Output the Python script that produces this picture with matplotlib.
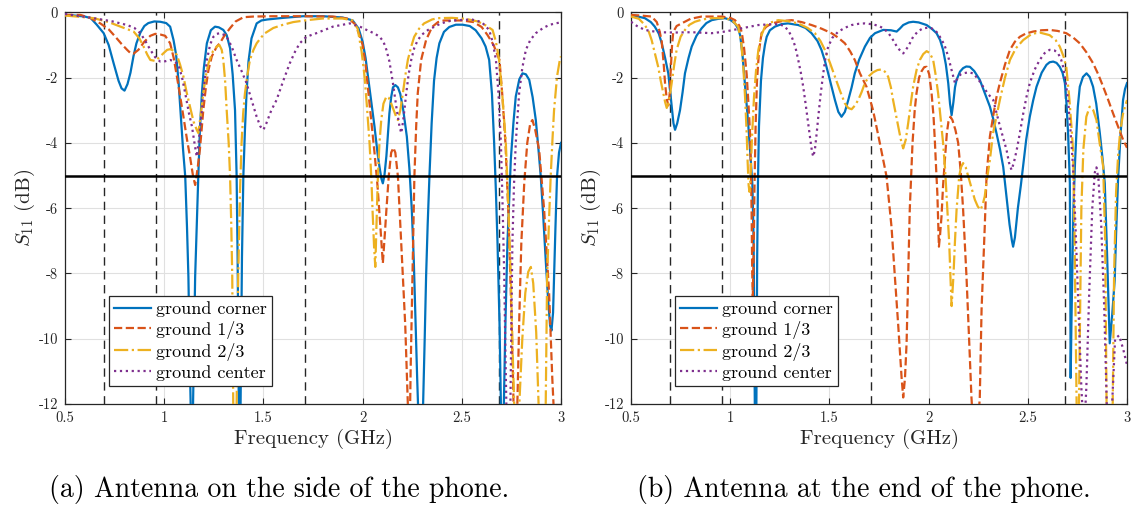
import matplotlib
matplotlib.use("Agg")
import matplotlib.pyplot as plt

plt.rcParams["font.family"] = "serif"
plt.rcParams["font.serif"] = ["cmr10"]
plt.rcParams["mathtext.fontset"] = "cm"
plt.rcParams["axes.unicode_minus"] = False
plt.rcParams["axes.formatter.use_mathtext"] = False

# ---- (a) antenna on the side of the phone ----
a_corner = [(0.50,-0.08),(0.55,-0.10),(0.60,-0.13),(0.63,-0.18),(0.66,-0.38),(0.695,-0.64),(0.72,-1.0),
    (0.745,-1.56),(0.77,-2.1),(0.785,-2.33),(0.80,-2.40),(0.815,-2.2),(0.83,-1.85),(0.845,-1.35),(0.86,-0.95),
    (0.88,-0.62),(0.90,-0.42),(0.92,-0.33),(0.95,-0.28),(0.98,-0.29),(1.01,-0.33),(1.03,-0.44),(1.047,-0.85),
    (1.06,-1.3),(1.072,-2.1),(1.085,-3.3),(1.095,-4.2),(1.106,-5.03),(1.115,-6.6),(1.122,-8.1),(1.13,-11),
    (1.14,-14),(1.148,-11),(1.156,-8.1),(1.164,-6.5),(1.172,-5.0),(1.18,-3.6),(1.19,-2.48),(1.20,-1.7),
    (1.215,-0.95),(1.235,-0.55),(1.256,-0.44),(1.275,-0.46),(1.298,-0.54),(1.315,-0.7),(1.332,-1.1),
    (1.345,-1.9),(1.357,-3.0),(1.365,-5.0),(1.37,-7.5),(1.376,-12),(1.38,-14),(1.385,-12),(1.392,-7.5),
    (1.399,-5.0),(1.407,-3.6),(1.415,-2.48),(1.425,-1.5),(1.44,-0.8),(1.466,-0.34),(1.49,-0.25),(1.52,-0.22),
    (1.6,-0.17),(1.7,-0.12),(1.8,-0.12),(1.9,-0.16),(1.95,-0.25),(1.98,-0.5),(2.0,-0.9),(2.015,-1.4),
    (2.027,-1.97),(2.045,-2.8),(2.06,-3.5),(2.075,-4.3),(2.085,-4.73),(2.095,-5.1),(2.102,-5.24),(2.11,-5.0),
    (2.12,-4.4),(2.127,-3.8),(2.135,-3.1),(2.144,-2.6),(2.153,-2.3),(2.165,-2.23),(2.178,-2.3),(2.19,-2.5),
    (2.205,-3.0),(2.223,-3.81),(2.236,-4.8),(2.248,-6.05),(2.258,-7.6),(2.265,-9.1),(2.275,-11.2),(2.29,-14),
    (2.305,-12),(2.313,-10),(2.32,-8.1),(2.328,-6.5),(2.337,-5.0),(2.348,-3.4),(2.36,-2.1),(2.373,-1.4),
    (2.387,-0.95),(2.41,-0.6),(2.437,-0.45),(2.47,-0.38),(2.504,-0.38),(2.54,-0.42),(2.57,-0.55),(2.60,-0.8),
    (2.62,-1.05),(2.638,-1.46),(2.652,-2.5),(2.663,-4.0),(2.672,-5.5),(2.68,-7.07),(2.69,-9.5),(2.697,-12),
    (2.705,-14),(2.712,-12),(2.72,-9.5),(2.73,-7.07),(2.74,-5.6),(2.747,-4.52),(2.76,-3.4),(2.772,-2.58),
    (2.79,-2.05),(2.806,-1.87),(2.823,-1.9),(2.84,-2.07),(2.857,-2.6),(2.873,-3.3),(2.885,-4.1),(2.898,-5.03),
    (2.91,-6.2),(2.923,-7.59),(2.935,-8.8),(2.945,-9.6),(2.952,-9.75),(2.96,-9.2),(2.965,-8.1),(2.972,-6.6),
    (2.98,-5.03),(2.99,-4.3),(3.0,-4.0)]

a_third = [(0.50,-0.08),(0.578,-0.08),(0.63,-0.18),(0.678,-0.34),(0.72,-0.52),(0.754,-0.75),(0.785,-0.97),
    (0.813,-1.15),(0.83,-1.25),(0.845,-1.27),(0.87,-1.15),(0.90,-0.9),(0.93,-0.72),(0.955,-0.66),(0.98,-0.68),
    (1.005,-0.72),(1.03,-0.95),(1.048,-1.4),(1.064,-1.97),(1.08,-2.55),(1.097,-3.2),(1.115,-3.9),(1.13,-4.42),
    (1.145,-5.0),(1.156,-5.29),(1.168,-4.8),(1.18,-4.2),(1.19,-3.5),(1.197,-3.0),(1.21,-2.3),(1.223,-1.77),
    (1.24,-1.35),(1.265,-1.05),(1.28,-0.95),(1.30,-0.75),(1.33,-0.5),(1.36,-0.28),(1.40,-0.15),(1.45,-0.13),
    (1.55,-0.12),(1.7,-0.12),(1.85,-0.13),(1.93,-0.2),(1.96,-0.35),(1.985,-0.7),(2.0,-1.0),(2.015,-1.6),
    (2.03,-2.5),(2.045,-3.4),(2.06,-4.3),(2.075,-5.3),(2.09,-6.6),(2.102,-7.69),(2.112,-6.8),(2.12,-6.05),
    (2.132,-5.0),(2.144,-4.3),(2.155,-4.15),(2.165,-4.3),(2.178,-5.03),(2.19,-6.5),(2.203,-8.1),(2.215,-9.6),
    (2.228,-12),(2.235,-14),(2.242,-11),(2.25,-8.5),(2.261,-5.03),(2.27,-3.5),(2.278,-2.48),(2.295,-1.46),
    (2.32,-0.85),(2.35,-0.45),(2.38,-0.3),(2.41,-0.25),(2.5,-0.25),(2.56,-0.3),(2.6,-0.45),(2.63,-0.7),
    (2.66,-1.0),(2.69,-1.46),(2.705,-2.6),(2.72,-4.0),(2.735,-6.2),(2.748,-8.8),(2.758,-11.2),(2.768,-14),
    (2.78,-12),(2.79,-9.3),(2.80,-7.07),(2.815,-5.2),(2.83,-4.0),(2.845,-3.4),(2.856,-3.3),(2.87,-3.6),
    (2.89,-4.22),(2.915,-6.05),(2.94,-8.6),(2.956,-11.2),(2.97,-13),(3.0,-14)]

a_two_thirds = [(0.50,-0.1),(0.56,-0.13),(0.645,-0.18),(0.72,-0.3),(0.78,-0.44),(0.846,-0.59),(0.875,-0.8),
    (0.896,-1.05),(0.915,-1.3),(0.93,-1.46),(0.955,-1.49),(0.975,-1.38),(0.997,-1.25),(1.015,-1.15),
    (1.03,-1.13),(1.048,-1.18),(1.064,-1.31),(1.08,-1.6),(1.097,-1.97),(1.113,-2.45),(1.13,-2.89),
    (1.148,-3.35),(1.164,-3.6),(1.172,-3.7),(1.185,-3.1),(1.197,-2.48),(1.21,-1.95),(1.223,-1.56),
    (1.245,-1.2),(1.265,-1.05),(1.278,-1.0),(1.29,-1.15),(1.298,-1.46),(1.307,-2.1),(1.315,-3.0),(1.325,-4.0),
    (1.332,-5.03),(1.338,-6.5),(1.343,-8.1),(1.348,-12),(1.356,-14),(1.365,-12),(1.373,-8.1),(1.382,-5.5),
    (1.39,-4.0),(1.398,-3.1),(1.407,-2.48),(1.42,-1.9),(1.432,-1.46),(1.45,-1.15),(1.466,-0.95),(1.49,-0.76),
    (1.508,-0.64),(1.55,-0.48),(1.6,-0.38),(1.65,-0.3),(1.72,-0.24),(1.8,-0.19),(1.9,-0.19),(1.95,-0.25),
    (1.975,-0.5),(1.995,-1.2),(2.01,-1.97),(2.022,-2.9),(2.035,-4.0),(2.045,-5.2),(2.05,-6.05),(2.058,-7.2),
    (2.064,-7.8),(2.07,-6.5),(2.077,-5.03),(2.085,-4.0),(2.094,-3.3),(2.105,-2.8),(2.12,-2.58),(2.132,-2.62),
    (2.144,-2.79),(2.16,-3.05),(2.172,-3.25),(2.178,-3.3),(2.19,-3.0),(2.203,-2.48),(2.215,-1.95),
    (2.228,-1.46),(2.245,-1.05),(2.26,-0.75),(2.285,-0.5),(2.31,-0.34),(2.35,-0.22),(2.378,-0.18),
    (2.45,-0.17),(2.52,-0.2),(2.58,-0.28),(2.62,-0.4),(2.655,-0.54),(2.672,-0.9),(2.688,-1.46),(2.705,-2.6),
    (2.722,-4.0),(2.735,-6.0),(2.747,-8.1),(2.757,-10.5),(2.764,-12),(2.775,-14),(2.79,-12),(2.805,-10),
    (2.82,-8.6),(2.835,-7.95),(2.848,-7.8),(2.86,-8.3),(2.875,-9.8),(2.887,-12),(2.9,-14),(2.915,-14),
    (2.923,-12),(2.93,-8.1),(2.94,-6.3),(2.948,-5.03),(2.957,-3.9),(2.965,-3.0),(2.98,-1.97),(2.994,-1.46),
    (3.0,-1.35)]

a_center = [(0.50,-0.05),(0.53,-0.08),(0.645,-0.18),(0.74,-0.28),(0.813,-0.39),(0.85,-0.48),(0.88,-0.64),
    (0.905,-0.88),(0.93,-1.15),(0.955,-1.38),(0.98,-1.51),(1.005,-1.5),(1.03,-1.46),(1.05,-1.5),(1.072,-1.61),
    (1.09,-2.0),(1.106,-2.48),(1.125,-3.1),(1.14,-3.5),(1.155,-4.1),(1.164,-4.42),(1.175,-3.9),(1.19,-3.0),
    (1.2,-2.3),(1.215,-1.46),(1.232,-0.98),(1.248,-0.75),(1.265,-0.66),(1.281,-0.64),(1.298,-0.68),
    (1.315,-0.75),(1.34,-1.05),(1.365,-1.46),(1.39,-1.8),(1.415,-2.17),(1.44,-2.68),(1.466,-3.2),(1.485,-3.5),
    (1.5,-3.6),(1.515,-3.4),(1.54,-3.0),(1.566,-2.69),(1.6,-2.1),(1.633,-1.56),(1.66,-1.2),(1.683,-0.95),
    (1.717,-0.75),(1.767,-0.64),(1.85,-0.44),(1.935,-0.34),(1.98,-0.42),(2.02,-0.54),(2.06,-0.65),
    (2.086,-0.75),(2.105,-0.9),(2.12,-1.15),(2.135,-1.5),(2.153,-2.17),(2.17,-2.9),(2.186,-3.5),(2.195,-3.7),
    (2.205,-3.3),(2.22,-2.48),(2.232,-1.9),(2.245,-1.46),(2.26,-1.1),(2.278,-0.85),(2.3,-0.68),(2.33,-0.54),
    (2.395,-0.34),(2.45,-0.25),(2.55,-0.22),(2.6,-0.3),(2.638,-0.54),(2.655,-0.9),(2.672,-1.46),(2.685,-2.5),
    (2.697,-4.0),(2.706,-6.0),(2.714,-8.1),(2.72,-10.5),(2.726,-12.5),(2.735,-14),(2.744,-12.5),(2.75,-9.5),
    (2.755,-7.07),(2.763,-5.3),(2.772,-4.0),(2.789,-2.48),(2.805,-1.7),(2.823,-1.15),(2.845,-0.85),
    (2.873,-0.64),(2.91,-0.48),(2.94,-0.39),(2.97,-0.34),(3.0,-0.31)]

# ---- (b) antenna at the end of the phone ----
b_corner = [(0.50,-0.08),(0.57,-0.18),(0.60,-0.3),(0.62,-0.44),(0.64,-0.65),(0.655,-0.95),(0.672,-1.4),
    (0.688,-1.87),(0.697,-2.4),(0.705,-2.89),(0.714,-3.4),(0.722,-3.6),(0.733,-3.4),(0.747,-3.0),(0.76,-2.45),
    (0.772,-1.87),(0.79,-1.4),(0.806,-1.05),(0.83,-0.72),(0.856,-0.49),(0.88,-0.33),(0.907,-0.24),(0.94,-0.2),
    (0.974,-0.18),(1.0,-0.23),(1.024,-0.34),(1.04,-0.5),(1.05,-0.7),(1.062,-1.3),(1.074,-2.17),(1.088,-3.2),
    (1.1,-4.2),(1.112,-5.3),(1.118,-7),(1.124,-12),(1.127,-14),(1.132,-12),(1.136,-7.5),(1.14,-5.2),
    (1.145,-3.5),(1.155,-2.1),(1.165,-1.4),(1.175,-1.0),(1.184,-0.75),(1.2,-0.55),(1.225,-0.44),(1.26,-0.36),
    (1.292,-0.34),(1.343,-0.39),(1.38,-0.48),(1.41,-0.64),(1.44,-0.88),(1.46,-1.15),(1.478,-1.5),(1.494,-1.87),
    (1.512,-2.3),(1.528,-2.69),(1.545,-3.05),(1.561,-3.2),(1.578,-3.05),(1.595,-2.69),(1.612,-2.3),
    (1.628,-1.87),(1.65,-1.45),(1.679,-1.05),(1.705,-0.78),(1.73,-0.64),(1.771,-0.54),(1.81,-0.55),
    (1.839,-0.59),(1.855,-0.5),(1.872,-0.39),(1.9,-0.31),(1.922,-0.29),(1.95,-0.31),(1.99,-0.39),(2.015,-0.5),
    (2.04,-0.64),(2.058,-0.85),(2.073,-1.15),(2.087,-1.6),(2.099,-2.17),(2.108,-2.8),(2.116,-3.15),
    (2.125,-2.75),(2.133,-2.3),(2.141,-2.07),(2.158,-1.82),(2.174,-1.71),(2.19,-1.66),(2.208,-1.67),
    (2.23,-1.8),(2.258,-2.07),(2.285,-2.5),(2.309,-2.89),(2.325,-3.25),(2.342,-3.7),(2.36,-4.2),(2.376,-4.73),
    (2.392,-5.6),(2.408,-6.5),(2.42,-7.0),(2.426,-7.18),(2.435,-6.9),(2.45,-6.0),(2.465,-5.3),(2.476,-4.73),
    (2.492,-3.9),(2.51,-3.2),(2.527,-2.7),(2.544,-2.28),(2.57,-1.85),(2.594,-1.61),(2.61,-1.53),(2.628,-1.51),
    (2.645,-1.55),(2.661,-1.67),(2.675,-1.85),(2.687,-2.17),(2.695,-2.8),(2.703,-3.7),(2.708,-4.6),
    (2.712,-5.24),(2.714,-8),(2.716,-11.2),(2.72,-9.5),(2.73,-6),(2.738,-4.6),(2.745,-3.7),(2.752,-2.9),
    (2.762,-2.28),(2.778,-1.98),(2.796,-1.87),(2.812,-1.98),(2.829,-2.28),(2.845,-2.8),(2.863,-3.7),
    (2.877,-4.5),(2.888,-5.24),(2.9,-7.5),(2.913,-10.14),(2.925,-9.3),(2.938,-8.2),(2.945,-6.8),(2.955,-5.1),
    (2.968,-3.7),(2.98,-2.69),(2.99,-2.35),(3.0,-2.17)]

b_third = [(0.50,-0.08),(0.55,-0.1),(0.604,-0.13),(0.63,-0.3),(0.645,-0.6),(0.655,-0.9),(0.665,-1.6),
    (0.672,-2.2),(0.68,-2.65),(0.688,-2.85),(0.695,-2.5),(0.70,-1.8),(0.707,-1.0),(0.713,-0.6),(0.73,-0.42),
    (0.755,-0.34),(0.8,-0.2),(0.856,-0.13),(0.957,-0.13),(1.0,-0.17),(1.024,-0.24),(1.045,-0.4),(1.058,-0.6),
    (1.07,-1.1),(1.083,-1.9),(1.092,-2.8),(1.1,-3.7),(1.105,-5.0),(1.108,-6.2),(1.111,-8.0),(1.114,-8.7),
    (1.118,-7.5),(1.122,-5.5),(1.128,-3.5),(1.135,-2.1),(1.145,-1.2),(1.158,-0.64),(1.18,-0.45),(1.209,-0.34),
    (1.26,-0.27),(1.31,-0.24),(1.36,-0.3),(1.41,-0.39),(1.46,-0.5),(1.511,-0.64),(1.545,-0.78),(1.578,-0.95),
    (1.605,-1.2),(1.628,-1.46),(1.654,-1.87),(1.687,-2.28),(1.72,-3.0),(1.754,-4.0),(1.788,-5.03),
    (1.813,-6.57),(1.83,-8.1),(1.847,-9.6),(1.864,-11.2),(1.872,-11.8),(1.881,-11.2),(1.889,-10.14),
    (1.897,-8.1),(1.905,-6.05),(1.919,-4.0),(1.93,-3.0),(1.939,-2.48),(1.952,-2.0),(1.965,-1.8),(1.978,-1.68),
    (1.99,-1.67),(2.003,-1.9),(2.015,-2.48),(2.025,-3.2),(2.032,-4.0),(2.038,-4.8),(2.044,-5.54),(2.052,-7.18),
    (2.058,-6.8),(2.065,-6.26),(2.073,-5.3),(2.082,-4.52),(2.092,-3.7),(2.1,-3.35),(2.11,-3.2),(2.12,-3.3),
    (2.135,-3.6),(2.149,-4.0),(2.162,-4.9),(2.174,-6.05),(2.191,-8.1),(2.205,-10.14),(2.216,-11.8),
    (2.228,-13),(2.245,-13),(2.258,-11.8),(2.267,-9.1),(2.283,-6.57),(2.292,-5.03),(2.309,-3.8),(2.325,-3.2),
    (2.342,-2.6),(2.359,-2.17),(2.385,-1.6),(2.41,-1.15),(2.435,-0.9),(2.46,-0.75),(2.49,-0.65),(2.527,-0.59),
    (2.57,-0.55),(2.61,-0.54),(2.65,-0.57),(2.694,-0.64),(2.73,-0.78),(2.762,-0.95),(2.795,-1.22),
    (2.829,-1.56),(2.855,-1.9),(2.88,-2.28),(2.905,-2.68),(2.93,-3.1),(2.955,-3.5),(2.98,-3.9),(3.0,-4.15)]

b_two_thirds = [(0.50,-0.13),(0.54,-0.2),(0.57,-0.39),(0.59,-0.6),(0.604,-0.85),(0.62,-1.25),(0.637,-1.67),
    (0.65,-2.1),(0.663,-2.48),(0.672,-2.75),(0.68,-2.93),(0.688,-2.8),(0.697,-2.5),(0.705,-2.17),(0.718,-1.6),
    (0.73,-1.15),(0.75,-0.75),(0.772,-0.54),(0.795,-0.38),(0.822,-0.29),(0.86,-0.22),(0.907,-0.18),
    (0.974,-0.18),(1.01,-0.25),(1.04,-0.44),(1.055,-0.9),(1.066,-1.67),(1.075,-2.6),(1.083,-3.7),(1.088,-4.6),
    (1.093,-5.3),(1.097,-5.5),(1.102,-5.1),(1.11,-3.8),(1.12,-2.6),(1.13,-1.8),(1.142,-1.15),(1.158,-0.7),
    (1.175,-0.44),(1.2,-0.32),(1.242,-0.24),(1.29,-0.27),(1.343,-0.34),(1.39,-0.48),(1.427,-0.64),
    (1.455,-0.88),(1.477,-1.15),(1.503,-1.55),(1.528,-1.97),(1.553,-2.4),(1.578,-2.79),(1.595,-2.93),
    (1.612,-2.97),(1.628,-2.86),(1.645,-2.69),(1.662,-2.45),(1.679,-2.17),(1.7,-1.95),(1.72,-1.84),
    (1.742,-1.77),(1.763,-1.75),(1.78,-1.82),(1.796,-1.97),(1.81,-2.3),(1.821,-2.69),(1.834,-3.1),(1.847,-3.5),
    (1.86,-3.9),(1.872,-4.17),(1.885,-3.9),(1.897,-3.4),(1.91,-2.8),(1.922,-2.28),(1.94,-1.75),(1.956,-1.46),
    (1.973,-1.28),(1.99,-1.19),(2.006,-1.25),(2.023,-1.46),(2.035,-1.9),(2.048,-2.48),(2.06,-3.2),(2.073,-4.0),
    (2.083,-4.8),(2.09,-5.54),(2.097,-6.3),(2.104,-7.07),(2.11,-8.1),(2.116,-9.0),(2.12,-8.6),(2.125,-8.1),
    (2.133,-7.0),(2.141,-6.05),(2.154,-5.03),(2.163,-4.75),(2.174,-4.62),(2.187,-4.75),(2.2,-5.03),
    (2.217,-5.4),(2.233,-5.74),(2.248,-5.95),(2.262,-6.05),(2.272,-5.9),(2.283,-5.64),(2.292,-5.2),
    (2.309,-4.52),(2.325,-3.7),(2.342,-3.2),(2.359,-2.69),(2.385,-2.0),(2.41,-1.46),(2.44,-1.1),(2.477,-0.85),
    (2.52,-0.66),(2.56,-0.62),(2.61,-0.7),(2.64,-0.85),(2.661,-1.05),(2.68,-1.35),(2.694,-1.67),(2.71,-2.69),
    (2.72,-3.5),(2.728,-4.2),(2.735,-6.5),(2.742,-10),(2.748,-13),(2.756,-13),(2.762,-10),(2.77,-6),
    (2.78,-4.2),(2.795,-3.2),(2.812,-2.89),(2.83,-3.0),(2.846,-3.3),(2.862,-4.0),(2.88,-4.73),(2.89,-7),
    (2.897,-12),(2.905,-14),(2.92,-14),(2.928,-12),(2.935,-8),(2.945,-5.5),(2.955,-4.4),(2.965,-3.7),
    (2.98,-3.1),(3.0,-2.69)]

b_center = [(0.50,-0.29),(0.53,-0.42),(0.57,-0.54),(0.638,-0.61),(0.72,-0.62),(0.806,-0.61),(0.907,-0.64),
    (0.974,-0.59),(1.058,-0.49),(1.142,-0.39),(1.225,-0.36),(1.255,-0.38),(1.276,-0.44),(1.295,-0.58),
    (1.31,-0.75),(1.328,-1.05),(1.343,-1.46),(1.356,-1.85),(1.368,-2.28),(1.38,-2.8),(1.393,-3.4),
    (1.405,-3.95),(1.413,-4.3),(1.419,-4.42),(1.427,-4.2),(1.436,-3.7),(1.444,-3.2),(1.456,-2.5),
    (1.469,-1.87),(1.48,-1.4),(1.494,-1.05),(1.515,-0.78),(1.545,-0.59),(1.58,-0.47),(1.612,-0.39),
    (1.65,-0.35),(1.679,-0.34),(1.72,-0.37),(1.75,-0.42),(1.771,-0.49),(1.796,-0.62),(1.821,-0.85),
    (1.845,-1.1),(1.872,-1.26),(1.897,-1.05),(1.922,-0.75),(1.947,-0.58),(1.972,-0.49),(2.0,-0.47),
    (2.015,-0.49),(2.04,-0.6),(2.057,-0.75),(2.08,-1.0),(2.099,-1.36),(2.115,-1.75),(2.133,-2.17),
    (2.148,-2.0),(2.162,-1.9),(2.174,-1.87),(2.2,-1.84),(2.225,-1.87),(2.25,-2.05),(2.275,-2.28),(2.3,-2.5),
    (2.326,-2.69),(2.343,-3.1),(2.36,-3.5),(2.376,-3.85),(2.393,-4.22),(2.405,-4.6),(2.418,-4.83),(2.43,-4.6),
    (2.444,-4.22),(2.46,-3.7),(2.477,-3.1),(2.493,-2.6),(2.51,-2.17),(2.535,-1.75),(2.56,-1.46),(2.585,-1.25),
    (2.61,-1.15),(2.635,-1.17),(2.653,-1.26),(2.668,-1.45),(2.678,-1.67),(2.69,-2.1),(2.703,-2.69),
    (2.715,-3.6),(2.728,-4.73),(2.74,-6.5),(2.755,-9),(2.77,-11.5),(2.783,-13),(2.795,-11.5),(2.81,-8.5),
    (2.825,-6),(2.838,-4.9),(2.846,-4.75),(2.856,-5.1),(2.87,-6.5),(2.885,-9.0),(2.898,-12),(2.91,-13),
    (2.925,-12),(2.94,-10),(2.96,-9.9),(2.98,-10.3),(3.0,-10.8)]

labels = ["ground corner", "ground 1/3", "ground 2/3", "ground center"]
colors = ["#0072BD", "#D95319", "#EDB120", "#7E2F8E"]
styles = ["-", "--", "-.", ":"]
band_edges = [0.698, 0.96, 1.71, 2.69]
threshold = -5
captions = ["(a) Antenna on the side of the phone.", "(b) Antenna at the end of the phone."]
caption_x = [279 / 1137, 864 / 1137]

panels = [[a_corner, a_third, a_two_thirds, a_center],
          [b_corner, b_third, b_two_thirds, b_center]]

fig = plt.figure(figsize=(11.37, 5.08), dpi=100)
lefts = [65 / 1137, 631 / 1137]
for k, series in enumerate(panels):
    ax = fig.add_axes([lefts[k], 1 - 404 / 508, 496 / 1137, 391.7 / 508])
    for edge in band_edges:
        ax.axvline(edge, color="0.15", lw=1.0, dashes=(6, 4), zorder=1)
    for pts, lab, c, ls in zip(series, labels, colors, styles):
        f = [p[0] for p in pts]
        s = [p[1] for p in pts]
        ax.plot(f, s, color=c, ls=ls, lw=1.6, label=lab, zorder=3)
    ax.axhline(threshold, color="black", lw=1.8, zorder=4)
    ax.set_xlim(0.5, 3)
    ax.set_ylim(-12, 0)
    ax.set_xticks([0.5, 1, 1.5, 2, 2.5, 3])
    ax.set_xticklabels(["0.5", "1", "1.5", "2", "2.5", "3"])
    ax.set_yticks([-12, -10, -8, -6, -4, -2, 0])
    ax.grid(True, color="0.88", lw=0.8, zorder=0)
    ax.set_axisbelow(True)
    ax.tick_params(direction="in", top=True, right=True, labelsize=10.5, length=4,
                   colors="0.15", pad=5)
    for sp in ax.spines.values():
        sp.set_color("0.15")
        sp.set_linewidth(0.9)
    ax.set_xlabel("Frequency (GHz)", fontsize=15, color="0.15", labelpad=3)
    ax.set_ylabel(r"$S_{11}$ (dB)", fontsize=15, color="0.15", labelpad=1)
    leg = ax.legend(loc="lower left", bbox_to_anchor=(0.0887, 0.046), borderaxespad=0,
                    fontsize=13, handlelength=2.0, handletextpad=0.3, labelspacing=0.22,
                    borderpad=0.3, fancybox=False, framealpha=1, edgecolor="0.15")
    leg.get_frame().set_linewidth(0.9)
    fig.text(caption_x[k], 1 - 490 / 508, captions[k], ha="center", va="center", fontsize=20)

fig.savefig("out.png", dpi=100)
